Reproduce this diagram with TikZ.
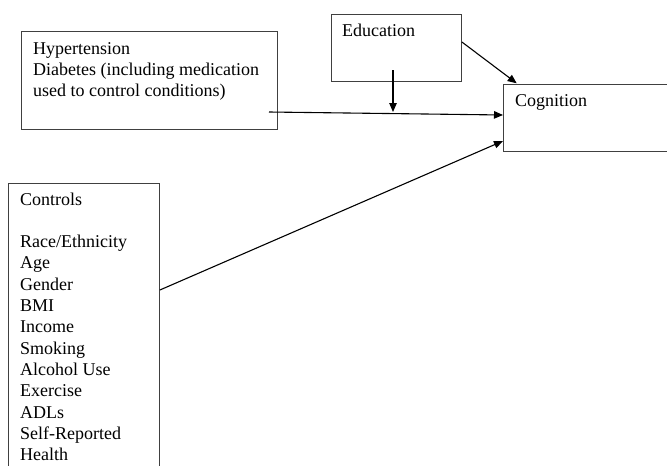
\documentclass[tikz,border=0pt]{standalone}
\usepackage{fontspec}
\setmainfont{Liberation Serif}
\usetikzlibrary{arrows.meta}
\begin{document}
\begin{tikzpicture}[x=1pt,y=-1pt,
  box/.style={draw=black!75,line width=0.9pt,inner sep=0pt,anchor=north west},
  lbl/.style={inner sep=0pt,anchor=base west,align=left,font=\fontsize{18}{21.3}\selectfont},
  conn/.style={draw=black,line width=1.1pt,-{Triangle[length=9pt,width=7.5pt]}}]
\useasboundingbox (0,0) rectangle (667,466);
% boxes
\node[box,minimum width=256pt,minimum height=98pt] (hyp) at (21,31) {};
\node[box,minimum width=130pt,minimum height=67pt] (edu) at (331,14) {};
\node[box,minimum width=170pt,minimum height=67pt] (cog) at (503,84) {};
\node[box,minimum width=151pt,minimum height=290pt] (ctl) at (8,183) {};
% texts (base anchor = baseline of last line)
\node[lbl] (hyptxt) at (33,96.9) {Hypertension\\Diabetes (including medication\\used to control conditions)};
\node[lbl] (edutxt) at (342,36) {Education};
\node[lbl] (cogtxt) at (515,106) {Cognition};
\node[lbl] (ctltxt) at (20,460.6) {Controls\\[21.3pt]Race/Ethnicity\\Age\\Gender\\BMI\\Income\\Smoking\\Alcohol Use\\Exercise\\ADLs\\Self-Reported\\Health};
% connector points
\coordinate (hs) at (269,112);
\coordinate (ht) at (cog.west |- 0,115);
\coordinate (es) at (393,70);
\coordinate (et) at (393,112);
\coordinate (e2s) at (edu.north east |- 0,42);
\coordinate (e2t) at (516.7,83.3);
\coordinate (cs) at (ctl.east |- 0,290);
\coordinate (ct) at (503,141);
% connectors
\draw[conn] (hs) -- (ht);
\draw[conn] (es) -- (et);
\draw[conn] (e2s) -- (e2t);
\draw[conn] (cs) -- (ct);
\end{tikzpicture}
\end{document}
